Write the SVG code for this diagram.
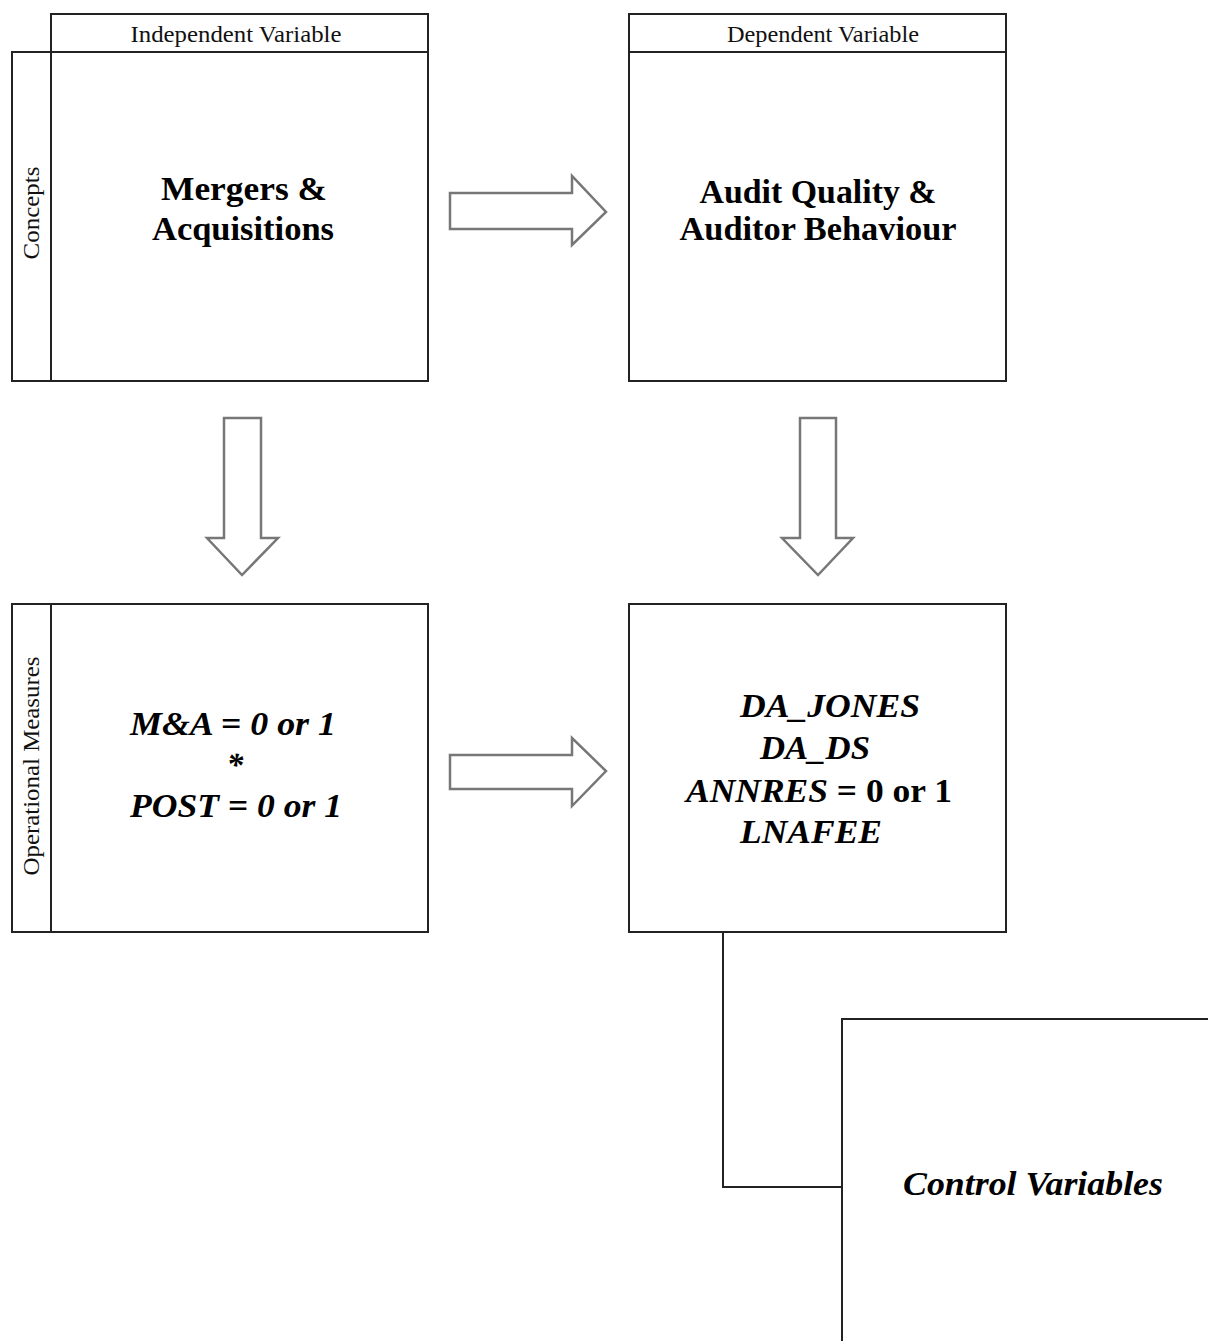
<svg xmlns="http://www.w3.org/2000/svg" width="1208" height="1341" viewBox="0 0 1208 1341">
<style>
.box{fill:#fff;stroke:#222;stroke-width:2}
.arr{fill:#fff;stroke:#777;stroke-width:2.5;stroke-linejoin:miter}
.con{fill:none;stroke:#222;stroke-width:2}
.hdr{font-family:"Liberation Serif",serif;font-size:23px;fill:#111;text-anchor:middle}
.side{font-family:"Liberation Serif",serif;font-size:23px;fill:#111;text-anchor:middle}
.big{font-family:"Liberation Serif",serif;font-size:33px;font-weight:bold;fill:#000;text-anchor:middle}
.bi{font-family:"Liberation Serif",serif;font-size:33px;font-weight:bold;font-style:italic;fill:#000;text-anchor:middle}
</style>
<rect width="1208" height="1341" fill="#fff"/>
<g id="iv-concept">
<rect class="box" x="51" y="14" width="377" height="38"/>
<rect class="box" x="12" y="52" width="416" height="329"/>
<line class="con" x1="51" y1="52" x2="51" y2="381"/>
<text class="hdr" x="236" y="42" textLength="211" lengthAdjust="spacingAndGlyphs">Independent Variable</text>
<text class="side" transform="translate(39,213) rotate(-90)" textLength="93" lengthAdjust="spacingAndGlyphs">Concepts</text>
<text class="big" x="244" y="200" textLength="166" lengthAdjust="spacingAndGlyphs">Mergers &amp;</text>
<text class="big" x="243" y="240" textLength="182" lengthAdjust="spacingAndGlyphs">Acquisitions</text>
</g>
<g id="dv-concept">
<rect class="box" x="629" y="14" width="377" height="38"/>
<rect class="box" x="629" y="52" width="377" height="329"/>
<text class="hdr" x="823" y="42" textLength="192" lengthAdjust="spacingAndGlyphs">Dependent Variable</text>
<text class="big" x="818" y="203" textLength="237" lengthAdjust="spacingAndGlyphs">Audit Quality &amp;</text>
<text class="big" x="818" y="240" textLength="277" lengthAdjust="spacingAndGlyphs">Auditor Behaviour</text>
</g>
<g id="iv-measure">
<rect class="box" x="12" y="604" width="416" height="328"/>
<line class="con" x1="51" y1="604" x2="51" y2="932"/>
<text class="side" transform="translate(39,766) rotate(-90)" textLength="219" lengthAdjust="spacingAndGlyphs">Operational Measures</text>
<text class="bi" x="233" y="735" textLength="206" lengthAdjust="spacingAndGlyphs">M&amp;A = 0 or 1</text>
<text class="bi" x="235" y="776">*</text>
<text class="bi" x="236" y="817" textLength="212" lengthAdjust="spacingAndGlyphs">POST = 0 or 1</text>
</g>
<g id="dv-measure">
<rect class="box" x="629" y="604" width="377" height="328"/>
<text class="bi" x="830" y="717" textLength="180" lengthAdjust="spacingAndGlyphs">DA_JONES</text>
<text class="bi" x="815" y="759" textLength="110" lengthAdjust="spacingAndGlyphs">DA_DS</text>
<text class="bi" x="819" y="802" textLength="266" lengthAdjust="spacingAndGlyphs">ANNRES<tspan font-style="normal"> = 0 or 1</tspan></text>
<text class="bi" x="811" y="843" textLength="142" lengthAdjust="spacingAndGlyphs">LNAFEE</text>
</g>
<g id="controls">
<rect class="box" x="842" y="1019" width="400" height="360"/>
<text class="bi" x="1033" y="1195" textLength="260" lengthAdjust="spacingAndGlyphs">Control Variables</text>
</g>
<g id="connectors">
<polygon class="arr" points="450,193 572,193 572,176 606,212 572,245 572,229 450,229"/>
<polygon class="arr" points="450,755 572,755 572,738 606,771 572,806 572,789 450,789"/>
<polygon class="arr" points="224,418 261,418 261,538 278,538 242,575 207,538 224,538"/>
<polygon class="arr" points="800,418 836,418 836,538 853,538 818,575 782,538 800,538"/>
<polyline class="con" points="723,932 723,1187 842,1187"/>
</g>
</svg>
